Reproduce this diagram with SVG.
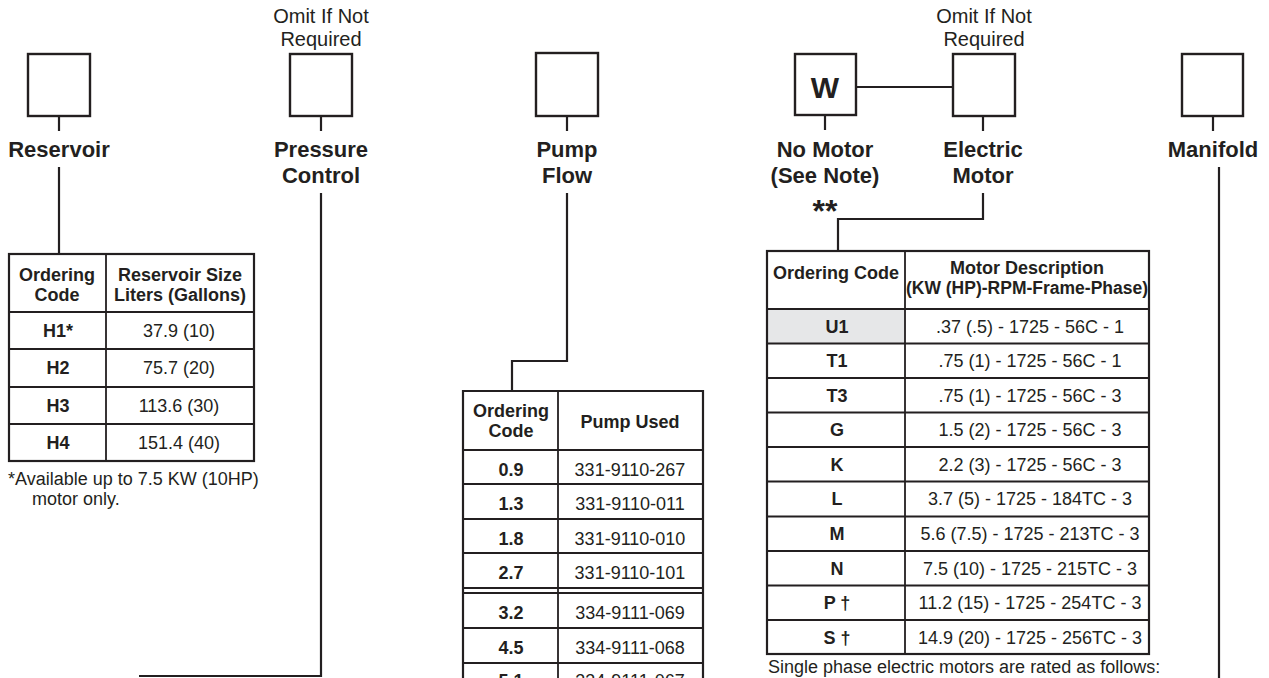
<svg xmlns="http://www.w3.org/2000/svg" width="1269" height="678" viewBox="0 0 1269 678">
<style>
text{font-family:"Liberation Sans",Arial,sans-serif;fill:#231f20}
.lbl{font-size:22px;font-weight:bold;text-anchor:middle}
.omit{font-size:20px;text-anchor:middle}
.th{font-size:18px;font-weight:bold;text-anchor:middle}
.tc{font-size:18px;font-weight:bold;text-anchor:middle}
.tv{font-size:18px;text-anchor:middle}
.note{font-size:18px}
.box{fill:#fff;stroke:#231f20;stroke-width:2.4}
.tbl{fill:none;stroke:#231f20;stroke-width:2.2}
.grid{fill:none;stroke:#231f20;stroke-width:1.8}
.conn{fill:none;stroke:#231f20;stroke-width:2.2}
</style>
<rect width="1269" height="678" fill="#fff"/>

<g id="connectors">
<path class="conn" d="M59 116V131"/>
<path class="conn" d="M59 167V254"/>
<path class="conn" d="M321 116V131"/>
<path class="conn" d="M321 193V676H139"/>
<path class="conn" d="M567 116V131"/>
<path class="conn" d="M567 193V361H512V391"/>
<path class="conn" d="M856 87H953"/>
<path class="conn" d="M825 115V130"/>
<path class="conn" d="M983 116V131"/>
<path class="conn" d="M983 193V219H838V251"/>
<path class="conn" d="M1213 116V131"/>
<path class="conn" d="M1219 167V678"/>
</g>

<g id="reservoir">
<rect class="box" x="28" y="54" width="62" height="62"/>
<text class="lbl" x="59" y="157">Reservoir</text>
</g>

<g id="pressure-control">
<text class="omit" x="321" y="23">Omit If Not</text>
<text class="omit" x="321" y="46">Required</text>
<rect class="box" x="290" y="54" width="62" height="62"/>
<text class="lbl" x="321" y="157">Pressure</text>
<text class="lbl" x="321" y="183">Control</text>
</g>

<g id="pump-flow">
<rect class="box" x="536" y="53" width="62" height="63"/>
<text class="lbl" x="567" y="157">Pump</text>
<text class="lbl" x="567" y="183">Flow</text>
</g>

<g id="no-motor">
<rect class="box" x="795" y="54" width="61" height="61"/>
<text x="825" y="98" style="font-size:30px;font-weight:bold;text-anchor:middle">W</text>
<text class="lbl" x="825" y="157">No Motor</text>
<text class="lbl" x="825" y="183">(See Note)</text>
<text x="825" y="222" style="font-size:32px;font-weight:bold;text-anchor:middle">**</text>
</g>

<g id="electric-motor">
<text class="omit" x="984" y="23">Omit If Not</text>
<text class="omit" x="984" y="46">Required</text>
<rect class="box" x="953" y="54" width="62" height="62"/>
<text class="lbl" x="983" y="157">Electric</text>
<text class="lbl" x="983" y="183">Motor</text>
</g>

<g id="manifold">
<rect class="box" x="1182" y="54" width="61" height="62"/>
<text class="lbl" x="1213" y="157">Manifold</text>
</g>

<g id="reservoir-table">
<rect class="tbl" x="9" y="254" width="245" height="207"/>
<path class="grid" d="M106 254V461M9 312H254M9 349H254M9 387H254M9 424H254"/>
<text class="th" x="57" y="281">Ordering</text>
<text class="th" x="57" y="301">Code</text>
<text class="th" x="180" y="281">Reservoir Size</text>
<text class="th" x="180" y="301">Liters (Gallons)</text>
<text class="tc" x="58" y="337">H1*</text><text class="tv" x="179" y="337">37.9 (10)</text>
<text class="tc" x="58" y="374">H2</text><text class="tv" x="179" y="374">75.7 (20)</text>
<text class="tc" x="58" y="412">H3</text><text class="tv" x="179" y="412">113.6 (30)</text>
<text class="tc" x="58" y="449">H4</text><text class="tv" x="179" y="449">151.4 (40)</text>
<text class="note" x="8" y="485">*Available up to 7.5 KW (10HP)</text>
<text class="note" x="32" y="505">motor only.</text>
</g>

<g id="pump-table">
<path class="tbl" d="M463 700V391H703V700"/>
<path class="grid" d="M558 391V700M463 450H703M463 484H703M463 519H703M463 553H703M463 588H703M463 593H703M463 628H703M463 663H703"/>
<text class="th" x="511" y="417">Ordering</text>
<text class="th" x="511" y="437">Code</text>
<text class="th" x="630" y="428">Pump Used</text>
<text class="tc" x="511" y="476">0.9</text><text class="tv" x="630" y="476">331-9110-267</text>
<text class="tc" x="511" y="510">1.3</text><text class="tv" x="630" y="510">331-9110-011</text>
<text class="tc" x="511" y="545">1.8</text><text class="tv" x="630" y="545">331-9110-010</text>
<text class="tc" x="511" y="579">2.7</text><text class="tv" x="630" y="579">331-9110-101</text>
<text class="tc" x="511" y="619">3.2</text><text class="tv" x="630" y="619">334-9111-069</text>
<text class="tc" x="511" y="654">4.5</text><text class="tv" x="630" y="654">334-9111-068</text>
<text class="tc" x="511" y="687">5.1</text><text class="tv" x="630" y="687">334-9111-067</text>
</g>

<g id="motor-table">
<rect x="767" y="309" width="138" height="34.5" fill="#e6e7e8"/>
<rect class="tbl" x="767" y="251" width="382" height="403"/>
<path class="grid" d="M905 251V654M767 309H1149M767 343.5H1149M767 378H1149M767 412.5H1149M767 447H1149M767 481.5H1149M767 516.5H1149M767 551H1149M767 585.5H1149M767 620H1149"/>
<text class="th" x="836" y="279">Ordering Code</text>
<text class="th" x="1027" y="274">Motor Description</text>
<text class="th" x="1027" y="294" style="font-size:17.5px">(KW (HP)-RPM-Frame-Phase)</text>
<text class="tc" x="837" y="333">U1</text><text class="tv" x="1030" y="333">.37 (.5) - 1725 - 56C - 1</text>
<text class="tc" x="837" y="367">T1</text><text class="tv" x="1030" y="367">.75 (1) - 1725 - 56C - 1</text>
<text class="tc" x="837" y="402">T3</text><text class="tv" x="1030" y="402">.75 (1) - 1725 - 56C - 3</text>
<text class="tc" x="837" y="436">G</text><text class="tv" x="1030" y="436">1.5 (2) - 1725 - 56C - 3</text>
<text class="tc" x="837" y="471">K</text><text class="tv" x="1030" y="471">2.2 (3) - 1725 - 56C - 3</text>
<text class="tc" x="837" y="505">L</text><text class="tv" x="1030" y="505">3.7 (5) - 1725 - 184TC - 3</text>
<text class="tc" x="837" y="540">M</text><text class="tv" x="1030" y="540">5.6 (7.5) - 1725 - 213TC - 3</text>
<text class="tc" x="837" y="575">N</text><text class="tv" x="1030" y="575">7.5 (10) - 1725 - 215TC - 3</text>
<text class="tc" x="837" y="609">P †</text><text class="tv" x="1030" y="609">11.2 (15) - 1725 - 254TC - 3</text>
<text class="tc" x="837" y="644">S †</text><text class="tv" x="1030" y="644">14.9 (20) - 1725 - 256TC - 3</text>
<text class="note" x="768" y="673">Single phase electric motors are rated as follows:</text>
</g>
</svg>
